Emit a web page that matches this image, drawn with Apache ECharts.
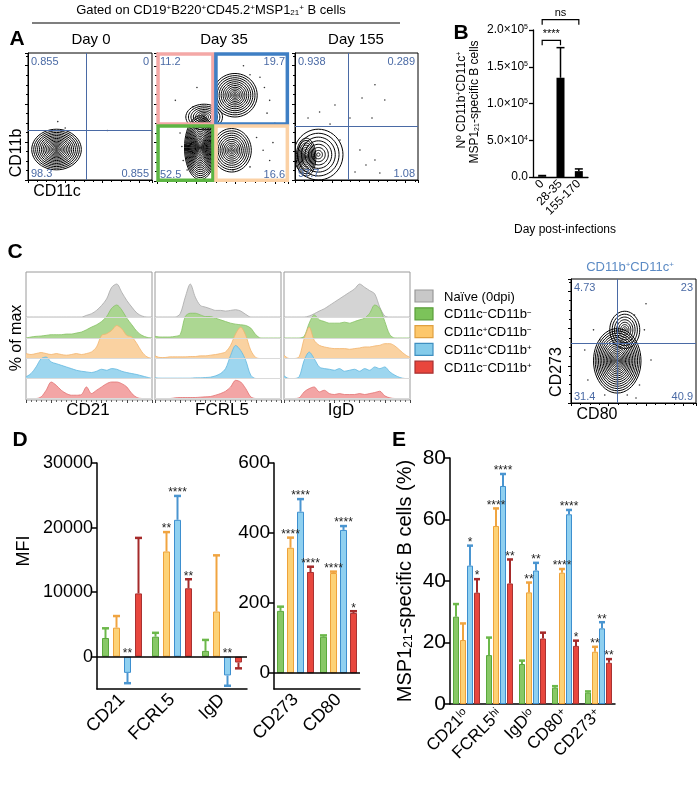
<!DOCTYPE html>
<html>
<head>
<meta charset="utf-8">
<script src="https://cdn.jsdelivr.net/npm/echarts@6/dist/echarts.min.js"></script>
<style>html,body{margin:0;padding:0;background:#fff}#main{width:697px;height:786px}</style>
</head>
<body>
<div id="main"></div>
<script>
var FONT = '"Liberation Sans", Arial, Helvetica, sans-serif';

// ---------- A : flow plots (both axes 0-100) ----------
var day0Quad = [47, 39];
var day0Pct = ['0.855', '0', '98.3', '0.855'];
var day0Blobs = [[23, 24, 20, 16, 16]];
var day0Dots = [[24, 46], [64, 39], [30, 41]];

var day35Quad = [43.5, 44];
var day35Pct = ['11.2', '19.7', '52.5', '16.6'];
var day35Blobs = [[33, 26, 12, 25, 20], [36, 50, 14, 10, 9], [59.5, 67, 17, 17, 13], [57, 24, 15, 17, 12]];
var day35Dots = [[78.6, 81], [82, 73], [86, 63], [71, 83], [56, 77], [84, 53], [14, 63], [27.5, 58], [30.5, 73],
  [81, 24], [86, 16], [71, 11], [88.5, 30], [58, 8.6], [76, 34], [19, 27], [20, 16], [23, 8.6], [17.6, 37.5], [90, 45], [66, 90]];
var day35Gates = [[0.8, 44.5, 42.7, 99.2], [45, 44.5, 99.5, 99.2], [0.8, 0.5, 42.7, 43], [45, 0.5, 99.5, 43]];

var day155Quad = [43, 42];
var day155Pct = ['0.938', '0.289', '97.7', '1.08'];
var day155Blobs = [[19, 20, 20, 20, 8], [9, 18, 8, 15, 10]];
var day155Dots = [[20, 53.5], [32.5, 59], [54.5, 64.6], [62.6, 48.8], [36.6, 31.5], [52.8, 23.6], [57.7, 11.8], [65, 15.7],
  [28.5, 44], [10.6, 48.8], [73, 63], [44.7, 48.8], [69, 5.5], [48.8, 6.3], [65, 75]];

// ---------- B ----------
var bCats = ['0', '28-35', '155-170'];
var bVals = [1000, 135000, 8000];
var bErr = [2000, 176000, 11000];
var bSig = [[0, 2, 214000, 'ns'], [0, 1, 186000, '****']];

// ---------- C : histograms (% of max, 26 bins) ----------
var cd21Gray = [0,0,0,0,0,0,0,0,0,0,0,0,5,10,20,35,55,90,100,75,50,30,12,3,0,0];
var cd21Green = [0,3,5,6,8,10,10,10,12,12,15,18,25,33,40,50,65,90,100,85,60,40,20,8,2,0];
var cd21Orange = [15,12,15,18,15,12,15,12,10,12,15,12,15,20,35,70,75,85,100,90,70,65,45,20,5,0];
var cd21Blue = [5,15,35,60,65,50,45,40,35,30,25,22,20,18,22,28,25,30,28,22,18,15,12,8,4,0];
var cd21Red = [0,0,0,5,25,50,40,25,15,10,10,12,35,15,25,35,45,50,50,45,35,15,3,0,0,0];

var fcrl5Gray = [0,0,0,0,0,10,60,100,60,35,30,25,20,20,18,20,22,18,8,0,0,0,0,0,0,0];
var fcrl5Green = [5,3,3,3,5,10,65,75,75,70,65,65,60,55,50,45,42,40,38,30,10,0,0,0,0,0];
var fcrl5Orange = [8,3,3,5,5,5,5,6,6,8,8,10,12,15,20,40,75,95,70,25,3,0,0,0,0,0];
var fcrl5Blue = [2,1,1,1,1,1,1,1,2,2,3,4,8,15,30,70,100,85,55,10,0,0,0,0,0,0];
var fcrl5Red = [0,0,0,0,2,3,3,3,3,4,5,6,10,15,22,35,55,50,30,5,0,0,0,0,0,0];

var igdGray = [0,0,0,0,0,3,10,18,25,35,45,55,65,75,85,100,90,80,70,30,3,0,0,0,0,0];
var igdGreen = [0,0,0,0,5,45,70,55,50,45,45,45,48,45,50,55,60,75,100,90,50,10,0,0,0,0];
var igdOrange = [10,0,0,5,60,95,55,40,35,32,30,30,30,28,30,32,35,35,38,40,45,45,38,25,12,3];
var igdBlue = [8,0,0,5,55,80,60,35,30,28,25,30,22,25,28,22,30,25,35,30,35,20,10,3,0,0];
var igdRed = [0,0,0,2,20,30,35,20,25,15,12,15,12,12,12,15,12,15,18,22,8,2,0,0,0,0];

var histMarkers = ['CD21', 'FCRL5', 'IgD'];
var legendLabels = ['Naïve (0dpi)', 'CD11c{sup|−}CD11b{sup|−}', 'CD11c{sup|+}CD11b{sup|−}', 'CD11c{sup|+}CD11b{sup|+}', 'CD11c{sup|−}CD11b{sup|+}'];

var dpQuad = [37, 48];
var dpPct = ['4.73', '23', '31.4', '40.9'];
var dpBlobs = [[37, 34, 19, 26, 18], [43, 59, 12, 15, 8]];
var dpDots = [[18, 59], [23, 51], [50.8, 71], [58.7, 59], [64, 34.7], [54.8, 14.5], [45, 6.5], [27, 6.5], [13.5, 18.5], [11, 42.7], [60, 80], [52, 4]];

// ---------- D : MFI ----------
var dLeftCats = ['CD21', 'FCRL5', 'IgD'];
var dLeftGreen = [2900, 3100, 900];
var dLeftGreenErr = [4400, 3700, 2600];
var dLeftOrange = [4500, 16300, 7000];
var dLeftOrangeErr = [6300, 19300, 15700];
var dLeftBlue = [-2500, 21200, -2900];
var dLeftBlueErr = [-4100, 24900, -4500];
var dLeftRed = [9800, 10600, -900];
var dLeftRedErr = [18400, 12000, -1800];
var dLeftStars = [['', '', ''], ['', '**', ''], ['**', '****', '**'], ['', '**', '']];

var dRightCats = ['CD273', 'CD80'];
var dRightGreen = [178, 104];
var dRightGreenErr = [190, 108];
var dRightOrange = [358, 286];
var dRightOrangeErr = [387, 290];
var dRightBlue = [461, 409];
var dRightBlueErr = [497, 420];
var dRightRed = [289, 172];
var dRightRedErr = [304, 177];
var dRightStars = [['', ''], ['****', '****'], ['****', '****'], ['****', '*']];

// ---------- E : % of MSP1-specific B cells ----------
var eCats = ['CD21', 'FCRL5', 'IgD', 'CD80', 'CD273'];
var eSups = ['lo', 'hi', 'lo', '+', '+'];
var eGreen = [28.4, 15.9, 13, 5.3, 3.7];
var eGreenErr = [32.5, 21.6, 14.1, 5.8, 4.1];
var eOrange = [20.8, 57.9, 36.3, 42.7, 17];
var eOrangeErr = [26.2, 63.6, 39.5, 43.9, 18.6];
var eBlue = [45, 70.9, 43.4, 61.7, 24.6];
var eBlueErr = [51.5, 74.8, 45.9, 63.1, 26.6];
var eRed = [36.2, 39.2, 21.3, 18.9, 13.4];
var eRedErr = [40.6, 47, 23.2, 20.6, 14.6];
var eStars = [['', '', '', '', ''], ['', '****', '**', '****', '**'], ['*', '****', '**', '****', '**'], ['*', '**', '', '*', '**']];

// ---------- styles ----------
var barFill = ['#88c866', '#fdd276', '#8fd0f0', '#e8473e'];
var barEdge = ['#5aa83c', '#eea23a', '#3d8fcf', '#a83232'];
var errCol = ['#6cb84a', '#f0a440', '#4a95d0', '#a52a2a'];
var histFill = ['#d2d2d2', '#a8d58c', '#fad09c', '#98d4ee', '#f2a0a0'];
var histEdge = ['#a8a8a8', '#86c164', '#f2b46c', '#62b8e0', '#e27272'];
var legFill = ['#c8c8c8', '#7cc35a', '#fdc76a', '#84cbea', '#e9463d'];
var legEdge = ['#999999', '#5a9e3a', '#e0a040', '#3f8fc0', '#a83030'];
var quadCol = '#4a6aa5';

function rich(size) {
  var s = Math.round(size * 0.62);
  return {
    sup: { fontSize: s, fontFamily: FONT, verticalAlign: 'top', lineHeight: s },
    sub: { fontSize: s, fontFamily: FONT, verticalAlign: 'bottom', lineHeight: s }
  };
}

var grids = [], xAxes = [], yAxes = [], series = [];

function addFlow(box, border) {
  var gi = grids.length;
  grids.push({ left: box[0], top: box[1], width: box[2], height: box[3], show: border, borderColor: '#000', borderWidth: 1 });
  [xAxes, yAxes].forEach(function (arr) {
    arr.push({
      type: 'value', gridIndex: gi, min: 0, max: 100, splitNumber: 4,
      axisLine: { show: true, lineStyle: { color: '#000', width: 1 } },
      axisTick: { show: true, length: 3, lineStyle: { color: '#000' } },
      minorTick: { show: true, splitNumber: 4, length: 2, lineStyle: { color: '#000' } },
      axisLabel: { show: false }, splitLine: { show: false }
    });
  });
  return gi;
}

function contour(gi, blobs) {
  return {
    type: 'custom', xAxisIndex: gi, yAxisIndex: gi, data: blobs, silent: true, clip: true, z: 3,
    renderItem: function (params, api) {
      var c = api.coord([api.value(0), api.value(1)]);
      var s = api.size([api.value(2), api.value(3)]);
      var n = api.value(4);
      var kids = [];
      for (var k = 1; k <= n; k++) {
        var f = Math.pow(k / n, 1.3);
        var pts = [];
        for (var a = 0; a < 48; a++) {
          var t = a / 48 * Math.PI * 2;
          pts.push([c[0] + Math.cos(t) * s[0] * f, c[1] + Math.sin(t) * s[1] * f]);
        }
        kids.push({ type: 'polygon', shape: { points: pts }, style: { fill: 'none', stroke: '#000', lineWidth: 1 } });
      }
      return { type: 'group', children: kids };
    }
  };
}

function dots(gi, pts, quad) {
  return {
    type: 'scatter', xAxisIndex: gi, yAxisIndex: gi, data: pts, symbolSize: 1.6, itemStyle: { color: '#000' }, silent: true, z: 3,
    markLine: {
      silent: true, symbol: 'none', label: { show: false }, animation: false,
      lineStyle: { color: quadCol, width: 1, type: 'solid' },
      data: [{ xAxis: quad[0] }, { yAxis: quad[1] }]
    }
  };
}

function quadLabels(gi, pct) {
  var corners = [[0, 100, 'left', 'top'], [100, 100, 'right', 'top'], [0, 0, 'left', 'bottom'], [100, 0, 'right', 'bottom']];
  return {
    type: 'custom', xAxisIndex: gi, yAxisIndex: gi, data: corners.map(function (c) { return [c[0], c[1]]; }), silent: true, z: 6, clip: false,
    renderItem: function (params, api) {
      var c = corners[params.dataIndex];
      var p = api.coord([c[0], c[1]]);
      return {
        type: 'text', x: p[0] + (c[2] === 'left' ? 3 : -3), y: p[1] + (c[3] === 'top' ? 3 : -1),
        style: { text: pct[params.dataIndex], fontSize: 11, fontFamily: FONT, fill: quadCol, textAlign: c[2], textVerticalAlign: c[3] }
      };
    }
  };
}

// A
var gA0 = addFlow([28, 53, 124, 127], true);
series.push(contour(gA0, day0Blobs), dots(gA0, day0Dots, day0Quad), quadLabels(gA0, day0Pct));
var gA35 = addFlow([157, 53, 131, 128], false);
series.push(contour(gA35, day35Blobs), dots(gA35, day35Dots, day35Quad));
var gateCol = ['#f4a8a6', '#3f7fc4', '#5db543', '#fbd1a5'];
series.push({
  type: 'custom', xAxisIndex: gA35, yAxisIndex: gA35, data: day35Gates, silent: true, z: 5, clip: false,
  renderItem: function (params, api) {
    var p0 = api.coord([api.value(0), api.value(3)]);
    var p1 = api.coord([api.value(2), api.value(1)]);
    return { type: 'rect', shape: { x: p0[0], y: p0[1], width: p1[0] - p0[0], height: p1[1] - p0[1] },
      style: { fill: 'none', stroke: gateCol[params.dataIndex], lineWidth: 3.5 } };
  }
});
series.push(quadLabels(gA35, day35Pct));
var gA155 = addFlow([295, 53, 123, 127], true);
series.push(contour(gA155, day155Blobs), dots(gA155, day155Dots, day155Quad), quadLabels(gA155, day155Pct));

// B
var gB = grids.length;
grids.push({ left: 533, top: 30, width: 55, height: 147 });
xAxes.push({
  type: 'category', gridIndex: gB, data: bCats,
  axisLine: { lineStyle: { color: '#000', width: 1.3 } },
  axisTick: { alignWithLabel: true, length: 4, lineStyle: { color: '#000', width: 1.3 } },
  axisLabel: { interval: 0, rotate: 45, fontSize: 12, fontFamily: FONT, color: '#000', margin: 5 }
});
yAxes.push({
  type: 'value', gridIndex: gB, min: 0, max: 200000, interval: 50000,
  axisLine: { show: true, lineStyle: { color: '#000', width: 1.3 } },
  axisTick: { show: true, length: 4, lineStyle: { color: '#000', width: 1.3 } },
  splitLine: { show: false },
  axisLabel: {
    fontSize: 12, fontFamily: FONT, color: '#000', margin: 5,
    formatter: function (v) {
      if (v === 0) return '0.0';
      var e = Math.floor(Math.log10(v));
      return (v / Math.pow(10, e)).toFixed(1) + '×10{sup|' + e + '}';
    },
    rich: rich(12)
  }
});
series.push({ type: 'bar', xAxisIndex: gB, yAxisIndex: gB, data: bVals, barWidth: 8, itemStyle: { color: '#000' }, silent: true });
series.push({
  type: 'custom', xAxisIndex: gB, yAxisIndex: gB, data: bVals.map(function (v, i) { return [i, v, bErr[i]]; }), silent: true, z: 4,
  renderItem: function (params, api) {
    var x = api.coord([api.value(0), 0])[0];
    var y1 = api.coord([api.value(0), api.value(1)])[1];
    var y2 = api.coord([api.value(0), api.value(2)])[1];
    return { type: 'group', children: [
      { type: 'line', shape: { x1: x, y1: y1, x2: x, y2: y2 }, style: { stroke: '#000', lineWidth: 1.5 } },
      { type: 'line', shape: { x1: x - 4, y1: y2, x2: x + 4, y2: y2 }, style: { stroke: '#000', lineWidth: 1.5 } }
    ] };
  }
});
series.push({
  type: 'custom', xAxisIndex: gB, yAxisIndex: gB, data: bSig.map(function (s) { return [s[0], s[1], s[2]]; }), silent: true, clip: false, z: 4,
  renderItem: function (params, api) {
    var p1 = api.coord([api.value(0), api.value(2)]);
    var p2 = api.coord([api.value(1), api.value(2)]);
    return { type: 'group', children: [
      { type: 'polyline', shape: { points: [[p1[0], p1[1] + 5], [p1[0], p1[1]], [p2[0], p1[1]], [p2[0], p1[1] + 5]] }, style: { fill: 'none', stroke: '#000', lineWidth: 1.2 } },
      { type: 'text', x: (p1[0] + p2[0]) / 2, y: p1[1] - 1, style: { text: bSig[params.dataIndex][3], fontSize: 11, fontFamily: FONT, fill: '#000', textAlign: 'center', textVerticalAlign: 'bottom' } }
    ] };
  }
});

// C histograms
var rowBase = [83, 62, 41.5, 21.5, 1.5];
var histSets = [
  [cd21Gray, cd21Green, cd21Orange, cd21Blue, cd21Red],
  [fcrl5Gray, fcrl5Green, fcrl5Orange, fcrl5Blue, fcrl5Red],
  [igdGray, igdGreen, igdOrange, igdBlue, igdRed]
];
var histLeft = [26, 155, 284];
histSets.forEach(function (set, p) {
  var gi = grids.length;
  grids.push({ left: histLeft[p], top: 272, width: 126, height: 128, show: true, borderColor: '#9a9a9a', borderWidth: 1 });
  xAxes.push({
    type: 'value', gridIndex: gi, min: 0, max: 25, interval: 5,
    axisLine: { show: false }, axisLabel: { show: false }, splitLine: { show: false },
    axisTick: { show: true, length: 3, lineStyle: { color: '#444' } },
    minorTick: { show: true, splitNumber: 5, length: 2, lineStyle: { color: '#666' } }
  });
  yAxes.push({ type: 'value', gridIndex: gi, min: 0, max: 128, show: false });
  set.forEach(function (arr, r) {
    var base = rowBase[r];
    series.push({
      type: 'line', xAxisIndex: gi, yAxisIndex: gi, silent: true, showSymbol: false, smooth: 0.3,
      data: arr.map(function (v, i) { return [i, base + v * 0.33]; }),
      lineStyle: { color: histEdge[r], width: 0.8 },
      areaStyle: { color: histFill[r], opacity: 0.95, origin: base },
      markLine: { silent: true, symbol: 'none', label: { show: false }, animation: false,
        lineStyle: { color: '#dadada', width: 1, type: 'solid' }, data: [{ yAxis: base }] }
    });
  });
});

// C contour (CD11b+CD11c+)
var gDP = addFlow([571, 279, 125, 124], true);
series.push(contour(gDP, dpBlobs), dots(gDP, dpDots, dpQuad), quadLabels(gDP, dpPct));

// D and E bar charts
function barChart(box, cats, vals, errs, stars, yCfg, w, gap, labelFmt, labelSize) {
  var gi = grids.length;
  grids.push({ left: box[0], top: box[1], width: box[2], height: box[3] });
  xAxes.push({
    type: 'category', gridIndex: gi, data: cats, position: 'bottom',
    axisLine: { onZero: false, lineStyle: { color: '#000', width: 1.5 } },
    axisTick: { alignWithLabel: true, length: 6, lineStyle: { color: '#000', width: 1.5 } },
    axisLabel: { interval: 0, rotate: 45, fontSize: labelSize, fontFamily: FONT, color: '#000', margin: 8, formatter: labelFmt, rich: rich(labelSize) }
  });
  var y = {
    type: 'value', gridIndex: gi, min: yCfg.min, max: yCfg.max,
    axisLine: { show: true, lineStyle: { color: '#000', width: 1.5 } },
    axisTick: { show: true, length: 6, lineStyle: { color: '#000', width: 1.5 } },
    splitLine: { show: false },
    axisLabel: { fontSize: yCfg.font, fontFamily: FONT, color: '#000', margin: 4, formatter: function (v) { return String(v); } }
  };
  if (yCfg.ticks) {
    y.axisLabel.customValues = yCfg.ticks;
    y.axisTick.customValues = yCfg.ticks;
  } else {
    y.interval = yCfg.interval;
  }
  yAxes.push(y);
  vals.forEach(function (v, k) {
    var s = { type: 'bar', xAxisIndex: gi, yAxisIndex: gi, data: v, barWidth: w, barGap: (gap / w * 100) + '%', silent: true,
      itemStyle: { color: barFill[k], borderColor: barEdge[k], borderWidth: 1 } };
    if (k === 0 && yCfg.min < 0) {
      s.markLine = { silent: true, symbol: 'none', label: { show: false }, animation: false,
        lineStyle: { color: '#000', width: 1.5, type: 'solid' }, data: [{ yAxis: 0 }] };
    }
    series.push(s);
    series.push({
      type: 'custom', xAxisIndex: gi, yAxisIndex: gi, silent: true, clip: false, z: 5,
      data: v.map(function (d, i) { return [i, d, errs[k][i]]; }),
      renderItem: function (params, api) {
        var i = api.value(0);
        var c0 = api.coord([i, 0]);
        var x = c0[0] + (k - 1.5) * (w + gap);
        var yv = api.coord([i, api.value(1)])[1];
        var ye = api.coord([i, api.value(2)])[1];
        var kids = [
          { type: 'line', shape: { x1: x, y1: yv, x2: x, y2: ye }, style: { stroke: errCol[k], lineWidth: 2 } },
          { type: 'line', shape: { x1: x - w / 2, y1: ye, x2: x + w / 2, y2: ye }, style: { stroke: errCol[k], lineWidth: 2.5 } }
        ];
        var st = stars[k][params.dataIndex];
        if (st) {
          var ty = api.value(1) >= 0 ? ye + 3 : c0[1] + 3;
          kids.push({ type: 'text', x: x, y: ty, style: { text: st, fontSize: 12, fontFamily: FONT, fill: '#222', textAlign: 'center', textVerticalAlign: 'bottom' } });
        }
        return { type: 'group', children: kids };
      }
    });
  });
}

barChart([97, 463, 150, 226], dLeftCats,
  [dLeftGreen, dLeftOrange, dLeftBlue, dLeftRed], [dLeftGreenErr, dLeftOrangeErr, dLeftBlueErr, dLeftRedErr], dLeftStars,
  { min: -5000, max: 30000, ticks: [0, 10000, 20000, 30000], font: 18 }, 7, 4, null, 18);
barChart([274, 463, 86, 226], dRightCats,
  [dRightGreen, dRightOrange, dRightBlue, dRightRed], [dRightGreenErr, dRightOrangeErr, dRightBlueErr, dRightRedErr], dRightStars,
  { min: -45, max: 600, ticks: [0, 200, 400, 600], font: 19 }, 7, 3, null, 18);
barChart([450, 458, 165, 246], eCats,
  [eGreen, eOrange, eBlue, eRed], [eGreenErr, eOrangeErr, eBlueErr, eRedErr], eStars,
  { min: 0, max: 80, interval: 20, font: 21 }, 6, 1,
  function (v, i) { return v + '{sup|' + eSups[i] + '}'; }, 17);

// ---------- text ----------
function txt(x, y, text, size, extra) {
  var e = { type: 'text', x: x, y: y, silent: true, z: 10,
    style: { text: text, fontSize: size, fontFamily: FONT, fill: '#000', textAlign: 'center', textVerticalAlign: 'middle', rich: rich(size) } };
  if (extra) {
    if (extra.rotate) e.rotation = Math.PI / 2;
    if (extra.bold) e.style.fontWeight = 'bold';
    if (extra.color) e.style.fill = extra.color;
    if (extra.align) e.style.textAlign = extra.align;
  }
  return e;
}

var graphics = [
  txt(211, 10, 'Gated on CD19{sup|+}B220{sup|+}CD45.2{sup|+}MSP1{sub|21}{sup|+} B cells', 13),
  { type: 'line', silent: true, shape: { x1: 32, y1: 23, x2: 400, y2: 23 }, style: { stroke: '#000', lineWidth: 1.2 } },
  txt(17, 39, 'A', 21, { bold: true }),
  txt(91, 40, 'Day 0', 15), txt(224, 40, 'Day 35', 15), txt(356, 40, 'Day 155', 15),
  txt(17, 153, 'CD11b', 16, { rotate: true }), txt(57, 192, 'CD11c', 16),
  txt(461, 33, 'B', 21, { bold: true }),
  txt(462, 100, 'Nº CD11b{sup|+}CD11c{sup|+}', 12, { rotate: true }),
  txt(475, 102, 'MSP1{sub|21}-specific B cells', 12, { rotate: true }),
  txt(565, 230, 'Day post-infections', 12),
  txt(15, 252, 'C', 21, { bold: true }),
  txt(17, 338, '% of max', 16, { rotate: true }),
  txt(630, 267, 'CD11b{sup|+}CD11c{sup|+}', 13, { color: '#5b8ac4' }),
  txt(557, 372, 'CD273', 16, { rotate: true }), txt(597, 415, 'CD80', 16),
  txt(20, 440, 'D', 21, { bold: true }),
  txt(24, 551, 'MFI', 18, { rotate: true }),
  txt(399, 440, 'E', 21, { bold: true }),
  txt(405, 581, 'MSP1{sub|21}-specific B cells (%)', 20, { rotate: true })
];
var histLabelX = [88, 222, 341];
histMarkers.forEach(function (m, i) { graphics.push(txt(histLabelX[i], 410, m, 17)); });
legendLabels.forEach(function (l, i) {
  var yc = 296 + i * 17.8;
  graphics.push({ type: 'rect', silent: true, shape: { x: 415, y: yc - 6, width: 18, height: 12 },
    style: { fill: legFill[i], stroke: legEdge[i], lineWidth: 1.2 } });
  graphics.push(txt(444, yc + 1, l, 13, { align: 'left' }));
});

var chart = echarts.init(document.getElementById('main'));
chart.setOption({
  animation: false,
  backgroundColor: '#fff',
  grid: grids,
  xAxis: xAxes,
  yAxis: yAxes,
  series: series,
  graphic: { elements: graphics }
});
</script>
</body>
</html>
